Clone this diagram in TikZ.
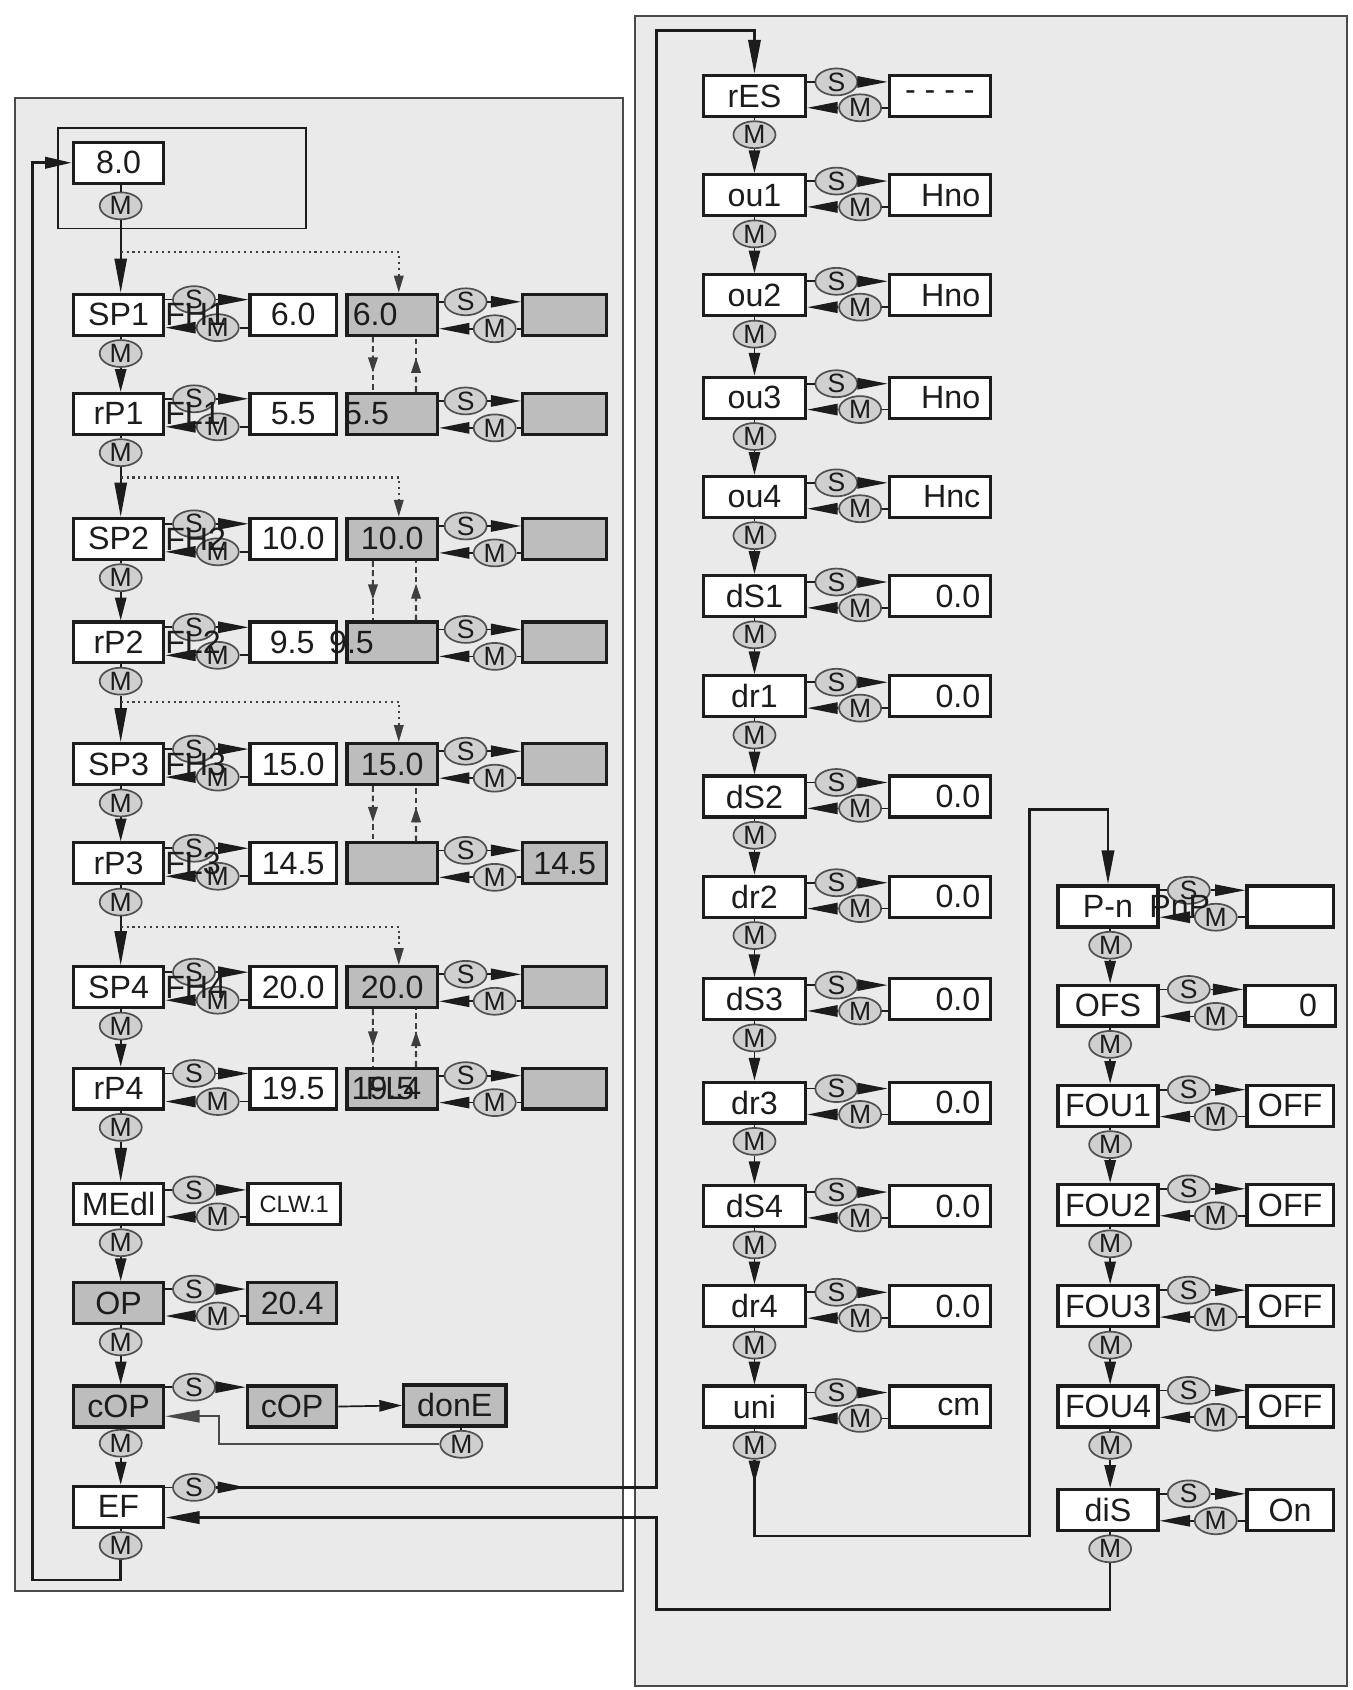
\documentclass[tikz,border=0pt]{standalone}
\usepackage{fontspec}
\setmainfont{Liberation Sans}
\usetikzlibrary{arrows.meta,shapes.geometric,calc}
\definecolor{panel}{HTML}{EAEAEA}
\definecolor{gbx}{HTML}{BDBDBD}
\definecolor{ovf}{HTML}{CFCFCF}
\definecolor{ovl}{HTML}{505050}
\definecolor{ink}{HTML}{1C1C1C}
\definecolor{frame}{HTML}{4A4A4A}
\newcommand{\vlink}[3]{%
  \draw[conn] (#1m.north |- #1.south) -- (#1m.north);
  \draw[#3] (#1m.south) -- (#1m.south |- #2.north);}
\newcommand{\spair}[7]{%
  \node[oval] (#3s) at (#4,#5) {S};
  \node[oval] (#3m) at (#6,#7) {M};
  \draw[conn] (#3s.west) -- (#3s.west -| #1.east);
  \draw[wedgeh] (#3s.east) -- (#3s.east -| #2.west);
  \draw[conn] (#3m.east) -- (#3m.east -| #2.west);
  \draw[wedgeh] (#3m.west) -- (#3m.west -| #1.east);}
\newcommand{\dpair}[2]{%
  \coordinate (#1dA) at ([xshift=-0.36cm]#1.south);
  \coordinate (#1dB) at ([xshift=-0.36cm]#2.north);
  \draw[dashl] (#1dA) -- (#1dB);
  \draw[dashl, -{Triangle[length=8pt,width=5pt]}] (#1dA) -- ($(#1dA)!0.65!(#1dB)$);
  \coordinate (#1uA) at ([xshift=0.44cm]#2.north);
  \coordinate (#1uB) at ([xshift=0.44cm]#1.south);
  \draw[dashl] (#1uA) -- (#1uB);
  \draw[dashl, -{Triangle[length=8pt,width=5pt]}] (#1uA) -- ($(#1uA)!0.62!(#1uB)$);}
\begin{document}
\begin{tikzpicture}[x=0.02cm, y=-0.02cm,
  every node/.style={text=ink},
  pbox/.style={draw=ink, line width=1.7pt, fill=white, minimum width=1.68cm, minimum height=0.76cm, inner sep=0pt, font=\fontsize{17pt}{20pt}\selectfont},
  gbox/.style={pbox, fill=gbx},
  rvbox/.style={pbox, text width=1.5cm, align=right, inner xsep=0.19cm},
  oval/.style={ellipse, draw=ovl, line width=0.9pt, fill=ovf, minimum width=0.78cm, minimum height=0.5cm, inner sep=0pt, font=\fontsize{14pt}{16pt}\selectfont},
  lbl/.style={inner sep=0pt, font=\fontsize{17pt}{20pt}\selectfont, anchor=west},
  conn/.style={draw=ink, line width=0.9pt},
  wedgeh/.style={conn, -{Triangle[length=16pt,width=6pt]}},
  wedgev/.style={conn, -{Triangle[length=12pt,width=6pt]}},
  bigtip/.style={-{Triangle[length=18pt,width=6.5pt]}},
  bigv/.style={conn, bigtip},
  loopline/.style={draw=ink, line width=1.4pt},
  dotl/.style={draw=ink!85, line width=1.1pt, dotted},
  dashl/.style={draw=ink!85, line width=1.1pt, dash pattern=on 3pt off 2pt}]

\fill[white] (0,0) rectangle (1255,1568);
\useasboundingbox (0,0) rectangle (1255,1568);
\draw[draw=frame, line width=1.1pt, fill=panel] (14,91) rectangle (578,1476);
\draw[draw=frame, line width=1.1pt, fill=panel] (589,15) rectangle (1250,1564);
\draw[draw=ink, line width=1pt] (54,119) rectangle (284,212);

% ---------- left column ----------
\node[pbox] (v80) at (110,151) {8.0};
\node[oval] (v80m) at (112,191) {M};
\node[pbox] (sp1) at (110,292) {SP1};
\node[oval] (sp1m) at (112,328) {M};
\node[pbox] (rp1) at (110,384) {rP1};
\node[oval] (rp1m) at (112,420) {M};
\node[pbox] (sp2) at (110,500) {SP2};
\node[oval] (sp2m) at (112,536) {M};
\node[pbox] (rp2) at (110,596) {rP2};
\node[oval] (rp2m) at (112,632) {M};
\node[pbox] (sp3) at (110,709) {SP3};
\node[oval] (sp3m) at (112,745) {M};
\node[pbox] (rp3) at (110,801) {rP3};
\node[oval] (rp3m) at (112,837) {M};
\node[pbox] (sp4) at (110,916) {SP4};
\node[oval] (sp4m) at (112,952) {M};
\node[pbox] (rp4) at (110,1010) {rP4};
\node[oval] (rp4m) at (112,1046) {M};
\node[pbox] (medl) at (110,1117) {MEdl};
\node[oval] (medlm) at (112,1153) {M};
\node[gbox] (op) at (110,1209) {OP};
\node[oval] (opm) at (112,1245) {M};
\node[gbox] (cop) at (110,1305) {cOP};
\node[oval] (copm) at (112,1339) {M};
\node[pbox] (ef) at (110,1398) {EF};
\node[oval] (efm) at (112,1434) {M};

\draw[conn] (v80m.north |- v80.south) -- (v80m.north);
\draw[bigv] (v80m.south) -- (v80m.south |- sp1.north);
\vlink{sp1}{rp1}{wedgev}
\vlink{rp1}{sp2}{bigv}
\vlink{sp2}{rp2}{wedgev}
\vlink{rp2}{sp3}{bigv}
\vlink{sp3}{rp3}{wedgev}
\vlink{rp3}{sp4}{bigv}
\vlink{sp4}{rp4}{wedgev}
\vlink{rp4}{medl}{bigv}
\vlink{medl}{op}{wedgev}
\vlink{op}{cop}{wedgev}
\vlink{cop}{ef}{wedgev}
\draw[conn] (efm.north |- ef.south) -- (efm.north);

% value boxes, left column
\node[pbox, minimum width=1.6cm] (sp1v) at (272,292) {6.0};
\node[gbox] (sp1g) at (364,292) {};
\node[gbox, minimum width=1.56cm] (sp1r) at (524,292) {};
\node[pbox, minimum width=1.6cm] (rp1v) at (272,384) {5.5};
\node[gbox] (rp1g) at (364,384) {};
\node[gbox, minimum width=1.56cm] (rp1r) at (524,384) {};
\node[pbox, minimum width=1.6cm] (sp2v) at (272,500) {10.0};
\node[gbox] (sp2g) at (364,500) {10.0};
\node[gbox, minimum width=1.56cm] (sp2r) at (524,500) {};
\node[pbox, minimum width=1.6cm] (rp2v) at (272,596) {};
\node[gbox] (rp2g) at (364,596) {};
\node[gbox, minimum width=1.56cm] (rp2r) at (524,596) {};
\node[pbox, minimum width=1.6cm] (sp3v) at (272,709) {15.0};
\node[gbox] (sp3g) at (364,709) {15.0};
\node[gbox, minimum width=1.56cm] (sp3r) at (524,709) {};
\node[pbox, minimum width=1.6cm] (rp3v) at (272,801) {14.5};
\node[gbox] (rp3g) at (364,801) {};
\node[gbox, minimum width=1.56cm] (rp3r) at (524,801) {14.5};
\node[pbox, minimum width=1.6cm] (sp4v) at (272,916) {20.0};
\node[gbox] (sp4g) at (364,916) {20.0};
\node[gbox, minimum width=1.56cm] (sp4r) at (524,916) {};
\node[pbox, minimum width=1.6cm] (rp4v) at (272,1010) {19.5};
\node[gbox] (rp4g) at (364,1010) {};
\node[gbox, minimum width=1.56cm] (rp4r) at (524,1010) {};
\node[pbox, minimum width=1.72cm, font=\fontsize{12.5pt}{14pt}\selectfont] (medlv) at (273,1117) {CLW.1};
\node[gbox, minimum width=1.66cm] (opv) at (271,1209) {20.4};
\node[gbox, minimum width=1.66cm] (cop2) at (271,1305) {cOP};
\node[gbox, minimum width=1.9cm] (done) at (422,1304) {donE};
\node[oval] (donem) at (428,1340) {M};

\spair{sp1}{sp1v}{sp1a}{180}{278}{202}{304}
\spair{sp1g}{sp1r}{sp1b}{432}{280}{459}{305}
\spair{rp1}{rp1v}{rp1a}{180}{370}{202}{396}
\spair{rp1g}{rp1r}{rp1b}{432}{372}{459}{397}
\spair{sp2}{sp2v}{sp2a}{180}{486}{202}{512}
\spair{sp2g}{sp2r}{sp2b}{432}{488}{459}{513}
\spair{rp2}{rp2v}{rp2a}{180}{582}{202}{608}
\spair{rp2g}{rp2r}{rp2b}{432}{584}{459}{609}
\spair{sp3}{sp3v}{sp3a}{180}{695}{202}{721}
\spair{sp3g}{sp3r}{sp3b}{432}{697}{459}{722}
\spair{rp3}{rp3v}{rp3a}{180}{787}{202}{813}
\spair{rp3g}{rp3r}{rp3b}{432}{789}{459}{814}
\spair{sp4}{sp4v}{sp4a}{180}{902}{202}{928}
\spair{sp4g}{sp4r}{sp4b}{432}{904}{459}{929}
\spair{rp4}{rp4v}{rp4a}{180}{996}{202}{1022}
\spair{rp4g}{rp4r}{rp4b}{432}{998}{459}{1023}
\spair{medl}{medlv}{medla}{180}{1104}{202}{1129}
\spair{op}{opv}{opa}{180}{1196}{202}{1221}

% cOP row
\node[oval] (copas) at (180,1287) {S};
\draw[conn] (copas.west) -- (copas.west -| cop.east);
\draw[wedgeh] (copas.east) -- (copas.east -| cop2.west);
\draw[conn, -{Triangle[length=12pt,width=6pt]}] (cop2.east) -- (done.west);
\draw[conn] (donem.north |- done.south) -- (donem.north);
\coordinate (lc7) at (203,1340);
\coordinate (lc8) at (203,1314);
\draw[conn, draw=ink!80, bigtip] (donem.west) -- (lc7) -- (lc8) -- (lc8 -| cop.east);

% dotted branches and dashed pairs
\coordinate (d1) at (112,234);
\coordinate (d2) at (112,443);
\coordinate (d3) at (112,651);
\coordinate (d4) at (112,860);
\draw[dotl, -{Triangle[length=9pt,width=5pt]}] (d1) -| ([xshift=0.12cm]sp1g.north);
\draw[dotl, -{Triangle[length=9pt,width=5pt]}] (d2) -| ([xshift=0.12cm]sp2g.north);
\draw[dotl, -{Triangle[length=9pt,width=5pt]}] (d3) -| ([xshift=0.12cm]sp3g.north);
\draw[dotl, -{Triangle[length=9pt,width=5pt]}] (d4) -| ([xshift=0.12cm]sp4g.north);
\dpair{sp1g}{rp1g}
\dpair{sp2g}{rp2g}
\dpair{sp3g}{rp3g}
\dpair{sp4g}{rp4g}

% EF row
\node[oval] (efs) at (180,1380) {S};
\draw[conn] (efs.west) -- (efs.west -| ef.east);

% ---------- middle column ----------
\node[pbox, minimum width=1.9cm] (res) at (700,89) {rES};
\node[oval] (resm) at (700,125) {M};
\node[pbox, minimum width=1.9cm] (ou1) at (700,181) {ou1};
\node[oval] (ou1m) at (700,217) {M};
\node[pbox, minimum width=1.9cm] (ou2) at (700,274) {ou2};
\node[oval] (ou2m) at (700,310) {M};
\node[pbox, minimum width=1.9cm] (ou3) at (700,369) {ou3};
\node[oval] (ou3m) at (700,405) {M};
\node[pbox, minimum width=1.9cm] (ou4) at (700,461) {ou4};
\node[oval] (ou4m) at (700,497) {M};
\node[pbox, minimum width=1.9cm] (ds1) at (700,553) {dS1};
\node[oval] (ds1m) at (700,589) {M};
\node[pbox, minimum width=1.9cm] (dr1) at (700,646) {dr1};
\node[oval] (dr1m) at (700,682) {M};
\node[pbox, minimum width=1.9cm] (ds2) at (700,739) {dS2};
\node[oval] (ds2m) at (700,775) {M};
\node[pbox, minimum width=1.9cm] (dr2) at (700,832) {dr2};
\node[oval] (dr2m) at (700,868) {M};
\node[pbox, minimum width=1.9cm] (ds3) at (700,927) {dS3};
\node[oval] (ds3m) at (700,963) {M};
\node[pbox, minimum width=1.9cm] (dr3) at (700,1023) {dr3};
\node[oval] (dr3m) at (700,1059) {M};
\node[pbox, minimum width=1.9cm] (ds4) at (700,1119) {dS4};
\node[oval] (ds4m) at (700,1155) {M};
\node[pbox, minimum width=1.9cm] (dr4) at (700,1212) {dr4};
\node[oval] (dr4m) at (700,1248) {M};
\node[pbox, minimum width=1.9cm] (uni) at (700,1305) {uni};
\node[oval] (unim) at (700,1341) {M};

\vlink{res}{ou1}{wedgev}
\vlink{ou1}{ou2}{wedgev}
\vlink{ou2}{ou3}{wedgev}
\vlink{ou3}{ou4}{wedgev}
\vlink{ou4}{ds1}{wedgev}
\vlink{ds1}{dr1}{wedgev}
\vlink{dr1}{ds2}{wedgev}
\vlink{ds2}{dr2}{wedgev}
\vlink{dr2}{ds3}{wedgev}
\vlink{ds3}{dr3}{wedgev}
\vlink{dr3}{ds4}{wedgev}
\vlink{ds4}{dr4}{wedgev}
\vlink{dr4}{uni}{wedgev}
\draw[conn] (unim.north |- uni.south) -- (unim.north);

\node[pbox, minimum width=1.88cm] (resv) at (872,89) {- - - -};
\node[rvbox] (ou1v) at (872,181) {Hno};
\node[rvbox] (ou2v) at (872,274) {Hno};
\node[rvbox] (ou3v) at (872,369) {Hno};
\node[rvbox] (ou4v) at (872,461) {Hnc};
\node[rvbox] (ds1v) at (872,553) {0.0};
\node[rvbox] (dr1v) at (872,646) {0.0};
\node[rvbox] (ds2v) at (872,739) {0.0};
\node[rvbox] (dr2v) at (872,832) {0.0};
\node[rvbox] (ds3v) at (872,927) {0.0};
\node[rvbox] (dr3v) at (872,1023) {0.0};
\node[rvbox] (ds4v) at (872,1119) {0.0};
\node[rvbox] (dr4v) at (872,1212) {0.0};
\node[rvbox] (univ) at (872,1305) {cm};

\spair{res}{resv}{resa}{776}{76}{798}{100}
\spair{ou1}{ou1v}{ou1a}{776}{168}{798}{192}
\spair{ou2}{ou2v}{ou2a}{776}{261}{798}{285}
\spair{ou3}{ou3v}{ou3a}{776}{356}{798}{380}
\spair{ou4}{ou4v}{ou4a}{776}{448}{798}{472}
\spair{ds1}{ds1v}{ds1a}{776}{540}{798}{564}
\spair{dr1}{dr1v}{dr1a}{776}{633}{798}{657}
\spair{ds2}{ds2v}{ds2a}{776}{726}{798}{750}
\spair{dr2}{dr2v}{dr2a}{776}{819}{798}{843}
\spair{ds3}{ds3v}{ds3a}{776}{914}{798}{938}
\spair{dr3}{dr3v}{dr3a}{776}{1010}{798}{1034}
\spair{ds4}{ds4v}{ds4a}{776}{1106}{798}{1130}
\spair{dr4}{dr4v}{dr4a}{776}{1199}{798}{1223}
\spair{uni}{univ}{unia}{776}{1292}{798}{1316}

% ---------- right column ----------
\node[pbox, minimum width=1.86cm] (pn) at (1028,841) {P-n};
\node[oval] (pnm) at (1030,877) {M};
\node[pbox, minimum width=1.86cm] (ofs) at (1028,933) {OFS};
\node[oval] (ofsm) at (1030,969) {M};
\node[pbox, minimum width=1.86cm] (fou1) at (1028,1026) {FOU1};
\node[oval] (fou1m) at (1030,1062) {M};
\node[pbox, minimum width=1.86cm] (fou2) at (1028,1118) {FOU2};
\node[oval] (fou2m) at (1030,1154) {M};
\node[pbox, minimum width=1.86cm] (fou3) at (1028,1212) {FOU3};
\node[oval] (fou3m) at (1030,1248) {M};
\node[pbox, minimum width=1.86cm] (fou4) at (1028,1305) {FOU4};
\node[oval] (fou4m) at (1030,1341) {M};
\node[pbox, minimum width=1.86cm] (dis) at (1028,1401) {diS};
\node[oval] (dism) at (1030,1437) {M};

\vlink{pn}{ofs}{wedgev}
\vlink{ofs}{fou1}{wedgev}
\vlink{fou1}{fou2}{wedgev}
\vlink{fou2}{fou3}{wedgev}
\vlink{fou3}{fou4}{wedgev}
\vlink{fou4}{dis}{wedgev}
\draw[conn] (dism.north |- dis.south) -- (dism.north);

\node[pbox, minimum width=1.6cm] (pnv) at (1197,841) {};
\node[pbox, text width=1.0cm, align=right, inner xsep=0.3cm] (ofsv) at (1197,933) {0};
\node[pbox, minimum width=1.6cm] (fou1v) at (1197,1026) {OFF};
\node[pbox, minimum width=1.6cm] (fou2v) at (1197,1118) {OFF};
\node[pbox, minimum width=1.6cm] (fou3v) at (1197,1212) {OFF};
\node[pbox, minimum width=1.6cm] (fou4v) at (1197,1305) {OFF};
\node[pbox, minimum width=1.6cm] (disv) at (1197,1401) {On};

\spair{pn}{pnv}{pna}{1103}{826}{1128}{851}
\spair{ofs}{ofsv}{ofsa}{1103}{918}{1128}{943}
\spair{fou1}{fou1v}{fou1a}{1103}{1011}{1128}{1036}
\spair{fou2}{fou2v}{fou2a}{1103}{1103}{1128}{1128}
\spair{fou3}{fou3v}{fou3a}{1103}{1197}{1128}{1222}
\spair{fou4}{fou4v}{fou4a}{1103}{1290}{1128}{1315}
\spair{dis}{disv}{disa}{1103}{1386}{1128}{1411}

% ---------- loops ----------
\coordinate (lc0) at (30,1466);
\coordinate (lc2) at (609,28);
\coordinate (lc3) at (609,1493);
\coordinate (lc4) at (609,1408);
\coordinate (lc5) at (955,1425);
\coordinate (lc6) at (955,751);
\draw[loopline, -{Triangle[length=14pt,width=6pt]}] (efm.south) |- (lc0) |- (v80.west);
\draw[loopline, bigtip] (efs.east) -| (lc2) -| (res.north);
\draw[conn, -{Triangle[length=15pt,width=6pt]}] (efs.east) -- ++(28,0);
\draw[loopline, bigtip] (dism.south) |- (lc3) -- (lc4) -- (lc4 -| ef.east);
\draw[loopline, bigtip] (unim.south) |- (lc5) -- (lc6) -| (pn.north);
\draw[conn, -{Triangle[length=12pt,width=6pt]}] (unim.south) -- ++(0,22);

% ---------- overlapping labels ----------
\node[lbl] (fh1) at (153,292) {FH1};
\node[lbl] (fl1) at (153,384) {FL1};
\node[lbl] (fh2) at (153,500) {FH2};
\node[lbl] (fl2) at (153,596) {FL2};
\node[lbl] (fh3) at (153,709) {FH3};
\node[lbl] (fl3) at (153,801) {FL3};
\node[lbl] (fh4) at (153,916) {FH4};
\node[lbl] (t1) at (327,292) {6.0};
\node[lbl] (t2) at (319,384) {5.5};
\node[lbl] (t3) at (250,596) {9.5};
\node[lbl] (t4) at (305,596) {9.5};
\node[lbl] (t5) at (326,1010) {19.5};
\node[lbl] (fl4) at (339,1010) {FL4};
\node[lbl] (pnp) at (1066,841) {PnP};
\end{tikzpicture}
\end{document}
